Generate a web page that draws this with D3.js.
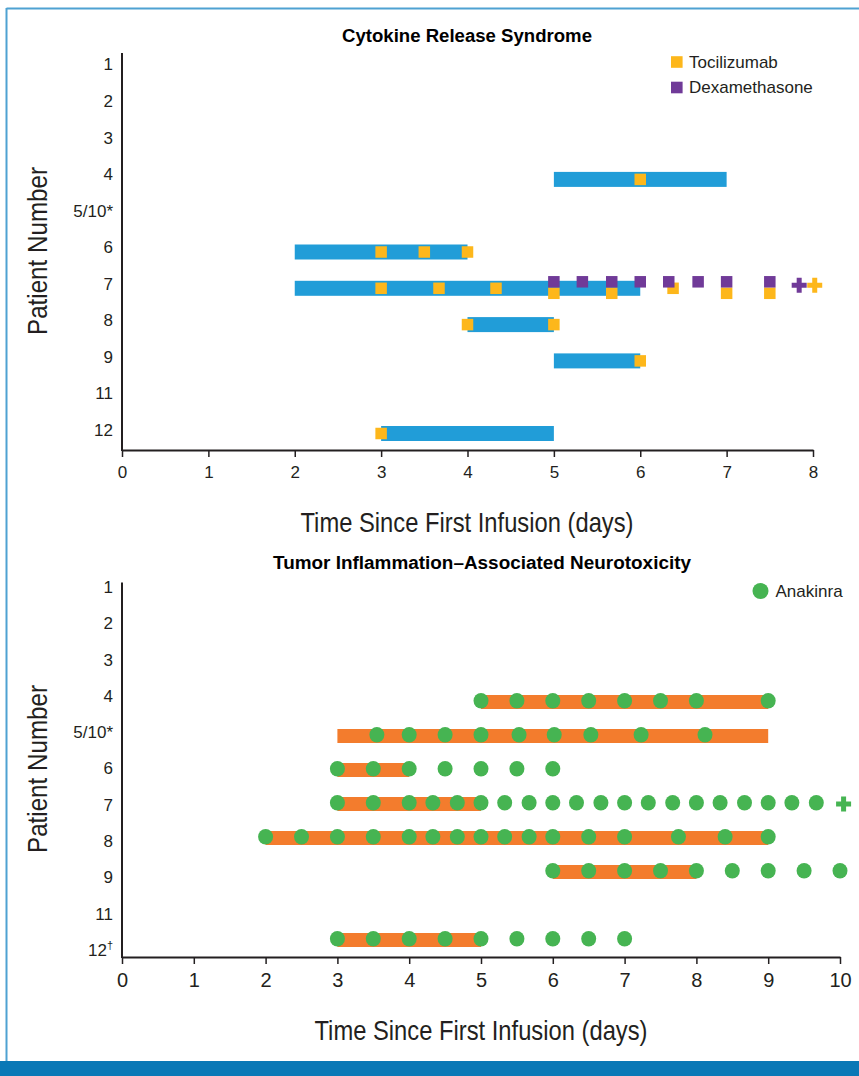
<!DOCTYPE html>
<html>
<head>
<meta charset="utf-8">
<script src="https://cdn.jsdelivr.net/npm/d3@7"></script>
<style>
  body { margin: 0; background: #fff; }
  svg { display: block; font-family: "Liberation Sans", Arial, sans-serif; }
</style>
</head>
<body>
<div id="chart"></div>
<script>
// patients on the y axis (same order in both panels)
const crsPatients = ["1", "2", "3", "4", "5/10*", "6", "7", "8", "9", "11", "12"];
const tianPatients = ["1", "2", "3", "4", "5/10*", "6", "7", "8", "9", "11", "12†"];
const crsDays = [0, 1, 2, 3, 4, 5, 6, 7, 8];
const tianDays = [0, 1, 2, 3, 4, 5, 6, 7, 8, 9, 10];

// cytokine release syndrome episodes: [patient, start, end]
const crsBars = [
    ["4", 5, 7],
    ["6", 2, 4],
    ["7", 2, 6],
    ["8", 4, 5],
    ["9", 5, 6],
    ["12", 3, 5]
];
// tocilizumab doses: [patient, day]
const tociDoses = [
    ["4", 6],
    ["6", 3], ["6", 3.5], ["6", 4],
    ["7", 3], ["7", 3.67], ["7", 4.33], ["7", 5], ["7", 5.67], ["7", 6.38], ["7", 7], ["7", 7.5],
    ["8", 4], ["8", 5],
    ["9", 6],
    ["12", 3]
];
// dexamethasone doses: [patient, day]
const dexDoses = [
    ["7", 5], ["7", 5.33], ["7", 5.67], ["7", 6], ["7", 6.33], ["7", 6.67], ["7", 7], ["7", 7.5]
];
// continued beyond the axis: [patient, day, drug]
const crsContinued = [
    ["7", 7.84, "dex"],
    ["7", 8.02, "toci"]
];

// neurotoxicity episodes: [patient, start, end]
const tianBars = [
    ["4", 5, 9],
    ["5/10*", 3, 9],
    ["6", 3, 4],
    ["7", 3, 5],
    ["8", 2, 9],
    ["9", 6, 8],
    ["12†", 3, 5]
];
// anakinra doses per patient
const anakinraDoses = [
    ["4", [5, 5.5, 6, 6.5, 7, 7.5, 8, 9]],
    ["5/10*", [3.55, 4, 4.5, 5, 5.53, 6.02, 6.53, 7.23, 8.12]],
    ["6", [3, 3.5, 4, 4.5, 5, 5.5, 6]],
    ["7", [3, 3.5, 4, 4.33, 4.67, 5, 5.33, 5.67, 6, 6.33, 6.67, 7, 7.33, 7.67, 8, 8.33, 8.67, 9, 9.33, 9.67]],
    ["8", [2, 2.5, 3, 3.5, 4, 4.33, 4.67, 5, 5.33, 5.67, 6, 6.5, 7, 7.75, 8.4, 9]],
    ["9", [6, 6.5, 7, 7.5, 8, 8.5, 9, 9.5, 10]],
    ["12†", [3, 3.5, 4, 4.5, 5, 5.5, 6, 6.5, 7]]
];
const anakinraContinued = [["7", 10.05]];

const blue = "#219dd8", toci = "#fdb71b", purple = "#703a98";
const orange = "#f37c2d", green = "#46b452", ink = "#231f20";
const narrow = '"Liberation Sans Narrow", "Arial Narrow", sans-serif';

const width = 859, height = 1076;
const svg = d3.select("#chart").append("svg")
    .attr("width", width)
    .attr("height", height);

// frame
svg.append("line").attr("x1", 6.5).attr("x2", width).attr("y1", 8.5).attr("y2", 8.5)
    .attr("stroke", "#4fa2d2").attr("stroke-width", 2);
svg.append("line").attr("x1", 6.5).attr("x2", 6.5).attr("y1", 8).attr("y2", 1061)
    .attr("stroke", "#4fa2d2").attr("stroke-width", 2);
svg.append("rect").attr("x", 0).attr("y", 1061).attr("width", width).attr("height", height - 1061)
    .attr("fill", "#0a78b6");

const cross = d3.symbol(d3.symbolCross, 125);

function drawFrame(o) {
    let g = svg.append("g");

    // title
    g.append("text")
        .attr("x", o.titleX).attr("y", o.titleY)
        .attr("text-anchor", "middle")
        .attr("font-weight", "bold")
        .attr("font-size", 18)
        .style("font-family", o.titleFont)
        .attr("textLength", o.titleLen).attr("lengthAdjust", "spacingAndGlyphs")
        .text(o.title);

    // x axis
    let xAxis = g.append("g")
        .attr("transform", `translate(0,${o.axisY})`)
        .call(d3.axisBottom(o.x).tickValues(o.days).tickSize(7).tickSizeOuter(0).tickPadding(9));
    xAxis.select(".domain").attr("stroke", ink).attr("stroke-width", 2);
    xAxis.selectAll(".tick line").attr("stroke", ink).attr("stroke-width", 1.5);
    xAxis.selectAll(".tick text")
        .attr("fill", ink)
        .attr("font-size", o.xTickSize)
        .style("font-family", o.xTickFont);

    // y axis line
    g.append("line")
        .attr("x1", o.x(0)).attr("x2", o.x(0))
        .attr("y1", o.axisTop).attr("y2", o.axisY + 1)
        .attr("stroke", ink).attr("stroke-width", 2);

    // y tick labels
    let yAxis = g.append("g")
        .attr("transform", `translate(${o.x(0)},0)`)
        .call(d3.axisLeft(o.yLabel).tickSize(0).tickPadding(9));
    yAxis.select(".domain").remove();
    yAxis.selectAll(".tick text")
        .attr("fill", ink)
        .attr("font-size", 17)
        .each(function (d) {
            let t = d3.select(this);
            if (d.endsWith("†")) {
                t.text(d.slice(0, -1));
                t.append("tspan").attr("font-size", 11).attr("dy", -7).text("†");
            }
        });

    // axis titles
    g.append("text")
        .attr("x", o.xLabelX).attr("y", o.xLabelY)
        .attr("text-anchor", "middle")
        .attr("font-size", 28)
        .style("font-family", narrow)
        .attr("fill", ink)
        .attr("textLength", 333).attr("lengthAdjust", "spacingAndGlyphs")
        .text("Time Since First Infusion (days)");
    g.append("text")
        .attr("transform", `translate(46.5,${o.yLabelY}) rotate(-90)`)
        .attr("text-anchor", "middle")
        .attr("font-size", 28)
        .style("font-family", narrow)
        .attr("fill", ink)
        .attr("textLength", 168).attr("lengthAdjust", "spacingAndGlyphs")
        .text("Patient Number");
    return g;
}

// ---------- Cytokine Release Syndrome ----------
let xTop = d3.scaleLinear().domain([0, 8]).range([122, 813]);
let yTop = d3.scalePoint().domain(crsPatients).range([70.5, 433.5]);
let yTopLabel = d3.scalePoint().domain(crsPatients).range([64.5, 430]);

let crsPanel = drawFrame({
    title: "Cytokine Release Syndrome", titleX: 467, titleY: 41.5, titleLen: 250,
    titleFont: '"Liberation Sans", Arial, sans-serif',
    x: xTop, days: crsDays, yLabel: yTopLabel,
    axisY: 450, axisTop: 53, xTickSize: 17, xTickFont: '"Liberation Sans", Arial, sans-serif',
    xLabelX: 467, xLabelY: 531.5, yLabelY: 251
});

crsPanel.selectAll("rect.crs")
    .data(crsBars)
    .enter()
    .append("rect")
    .attr("class", "crs")
    .attr("x", d => xTop(d[1]))
    .attr("width", d => xTop(d[2]) - xTop(d[1]))
    .attr("y", d => yTop(d[0]) - 7.5)
    .attr("height", 15)
    .attr("fill", blue);

// a tocilizumab dose given with dexamethasone on the same day sits just below it
let sameDay = (d) => dexDoses.some(e => e[0] === d[0] && Math.abs(e[1] - d[1]) < 0.02);
let sq = 11.5;

crsPanel.selectAll("rect.toci")
    .data(tociDoses)
    .enter()
    .append("rect")
    .attr("class", "toci")
    .attr("x", d => xTop(d[1]) - sq / 2)
    .attr("y", d => yTop(d[0]) - sq / 2 + (sameDay(d) ? 5 : 0))
    .attr("width", sq).attr("height", sq)
    .attr("fill", toci);

crsPanel.selectAll("rect.dex")
    .data(dexDoses)
    .enter()
    .append("rect")
    .attr("class", "dex")
    .attr("x", d => xTop(d[1]) - sq / 2)
    .attr("y", d => yTop(d[0]) - sq / 2 - 6.5)
    .attr("width", sq).attr("height", sq)
    .attr("fill", purple);

crsPanel.selectAll("path.more")
    .data(crsContinued)
    .enter()
    .append("path")
    .attr("class", "more")
    .attr("d", cross)
    .attr("transform", d => `translate(${xTop(d[1])},${yTop(d[0]) - 3})`)
    .attr("fill", d => d[2] === "dex" ? purple : toci);

// legend
let crsLegend = [["Tocilizumab", toci, 62], ["Dexamethasone", purple, 87.5]];
crsLegend.forEach(([name, colour, cy]) => {
    crsPanel.append("rect")
        .attr("x", 671).attr("y", cy - 5.8)
        .attr("width", 11.6).attr("height", 11.6)
        .attr("fill", colour);
    crsPanel.append("text")
        .attr("x", 689).attr("y", cy)
        .attr("dy", "0.35em")
        .attr("font-size", 17)
        .attr("fill", ink)
        .text(name);
});

// ---------- Tumor Inflammation-Associated Neurotoxicity ----------
let xBot = d3.scaleLinear().domain([0, 10]).range([122, 840]);
let yBot = d3.scalePoint().domain(tianPatients).range([600, 940]);
let yBotLabel = d3.scalePoint().domain(tianPatients).range([587, 950]);

let tianPanel = drawFrame({
    title: "Tumor Inflammation–Associated Neurotoxicity", titleX: 482, titleY: 569, titleLen: 418,
    titleFont: '"Liberation Sans Narrow", "Arial Narrow", sans-serif',
    x: xBot, days: tianDays, yLabel: yBotLabel,
    axisY: 957, axisTop: 582.5, xTickSize: 20, xTickFont: narrow,
    xLabelX: 481, xLabelY: 1039.5, yLabelY: 769
});

tianPanel.selectAll("rect.tian")
    .data(tianBars)
    .enter()
    .append("rect")
    .attr("class", "tian")
    .attr("x", d => xBot(d[1]))
    .attr("width", d => xBot(d[2]) - xBot(d[1]))
    .attr("y", d => yBot(d[0]) - 7)
    .attr("height", 14)
    .attr("fill", orange);

let dots = anakinraDoses.flatMap(([p, days]) => days.map(day => [p, day]));
tianPanel.selectAll("ellipse.ana")
    .data(dots)
    .enter()
    .append("ellipse")
    .attr("class", "ana")
    .attr("cx", d => xBot(d[1]))
    .attr("cy", d => yBot(d[0]) - 1.3)
    .attr("rx", 7.5).attr("ry", 7.8)
    .attr("fill", green);

tianPanel.selectAll("path.more")
    .data(anakinraContinued)
    .enter()
    .append("path")
    .attr("class", "more")
    .attr("d", cross)
    .attr("transform", d => `translate(${xBot(d[1])},${yBot(d[0])})`)
    .attr("fill", green);

// legend
tianPanel.append("circle")
    .attr("cx", 760.5).attr("cy", 591)
    .attr("r", 8)
    .attr("fill", green);
tianPanel.append("text")
    .attr("x", 775.5).attr("y", 591)
    .attr("dy", "0.35em")
    .attr("font-size", 17)
    .attr("fill", ink)
    .text("Anakinra");
</script>
</body>
</html>
